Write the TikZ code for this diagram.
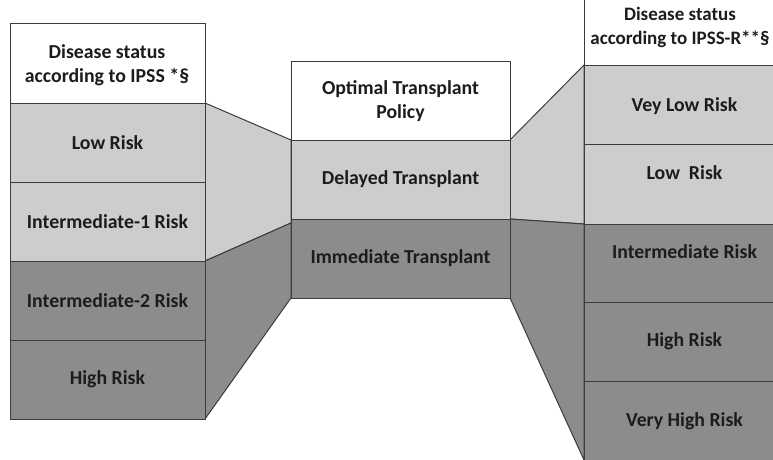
\documentclass[tikz,border=0pt]{standalone}
\usepackage{fontspec}
\setmainfont{Carlito}
\usetikzlibrary{calc}
\definecolor{lightg}{HTML}{CDCDCD}
\definecolor{darkg}{HTML}{8C8C8C}
\definecolor{edgec}{HTML}{3C3C3C}
\definecolor{txtc}{HTML}{1C1C1C}
\begin{document}
\begin{tikzpicture}[x=1pt,y=-1pt,
  cell/.style={draw=edgec,line width=1pt,rectangle,anchor=north west,inner sep=0pt,outer sep=0pt},
  lcell/.style={cell,minimum width=195,minimum height=79},
  mcell/.style={cell,minimum width=219},
  rcell/.style={cell,minimum width=201},
  txt/.style={font=\fontsize{19.8}{24}\selectfont\bfseries,text=txtc,align=center},
  trap/.style={draw=edgec,line width=1pt,line join=round}]
\useasboundingbox (0,0) rectangle (773,460);
\begin{scope}
\clip (0,0) rectangle (773,460);
% coordinates for columns
\coordinate (LT) at (205,103);
\coordinate (LM) at (205,261);
\coordinate (LB) at (205,419);
\coordinate (MT) at (291,140);
\coordinate (MM) at (291,223);
\coordinate (MB) at (291,298);
\coordinate (NT) at (510,140);
\coordinate (NM) at (510,219);
\coordinate (NB) at (510,298);
\coordinate (RT) at (584,65);
\coordinate (RM) at (584,224);
\coordinate (RB) at (584,460);
% trapezoids
\filldraw[trap,fill=lightg] (LT) -- (MT) -- (MM) -- (LM) -- cycle;
\filldraw[trap,fill=darkg] (LM) -- (MM) -- (MB) -- (LB) -- cycle;
\filldraw[trap,fill=lightg] (NT) -- (RT) -- (RM) -- (NM) -- cycle;
\filldraw[trap,fill=darkg] (NM) -- (RM) -- (RB) -- (NB) -- cycle;
% left column
\node[lcell,fill=white] (L0) at (10,24) {};
\node[txt] (L0t) at (107,65) {Disease status\\according to IPSS *§};
\node[lcell,fill=lightg,txt] (L1) at (10,103) {Low Risk};
\node[lcell,fill=lightg,txt] (L2) at (10,182) {Intermediate-1 Risk};
\node[lcell,fill=darkg,txt] (L3) at (10,261) {Intermediate-2 Risk};
\node[lcell,fill=darkg,txt] (L4) at (10,340) {High Risk};
% middle column
\node[mcell,minimum height=78,fill=white,txt] (M0) at (291,62) {Optimal Transplant\\Policy};
\node[mcell,minimum height=79,fill=lightg,txt] (M1) at (291,140) {Delayed Transplant};
\node[mcell,minimum height=79,fill=darkg,txt] (M2) at (291,219) {Immediate Transplant};
% right column
\node[rcell,minimum height=80,fill=white] (R0) at (584,-15) {};
\node[txt,font=\fontsize{19}{24}\selectfont\bfseries] (R0t) at (680,27) {Disease status\\according to IPSS-R**§};
\node[rcell,minimum height=79,fill=lightg] (R1) at (584,65) {};
\node[txt] at ($(R1.center)+(0,2)$) (R1t) {Vey Low Risk};
\node[rcell,minimum height=80,fill=lightg] (R2) at (584,144) {};
\node[txt] at ($(R2.center)+(0,-11)$) (R2t) {Low\ \ Risk};
\node[rcell,minimum height=78,fill=darkg] (R3) at (584,224) {};
\node[txt] at ($(R3.center)+(0,-11)$) (R3t) {Intermediate Risk};
\node[rcell,minimum height=79,fill=darkg] (R4) at (584,302) {};
\node[txt] at ($(R4.center)+(0,0)$) (R4t) {High Risk};
\node[rcell,minimum height=79,fill=darkg] (R5) at (584,381) {};
\node[txt] at ($(R5.center)+(0,1)$) (R5t) {Very High Risk};
\end{scope}
\end{tikzpicture}
\end{document}
